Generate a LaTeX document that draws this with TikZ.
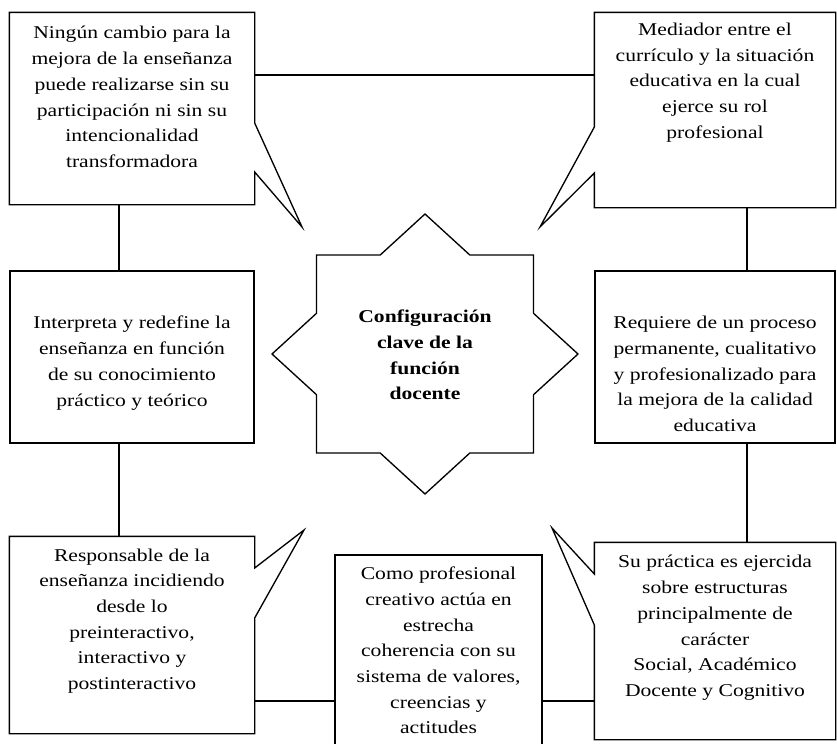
\documentclass[tikz,border=0pt]{standalone}
\usepackage{fontspec}
\setmainfont{Liberation Serif}[FakeStretch=1.2]
\usetikzlibrary{calc}

\begin{document}
\begin{tikzpicture}[
  x=0.75pt, y=-0.75pt, line width=1pt,
  txt/.style={align=center, inner sep=0pt, font=\fontsize{13.5}{19.3}\selectfont},
  box/.style={rectangle, inner sep=0pt, minimum width=183pt},
  frame/.style={draw, line join=miter, fill=white},
  link/.style={draw},
]
\clip (0,0) rectangle (837,743);
\fill[white] (0,0) rectangle (837,743);

% cajas
\node[box, minimum height=143.25pt] (tl) at (132,108.5) {};
\node[box, minimum width=180pt, minimum height=145.5pt] (tr) at (715,110) {};
\node[box, draw, minimum height=129pt] (ml) at (132,357) {};
\node[box, draw, minimum width=180pt, minimum height=129pt] (mr) at (715,357) {};
\node[box, minimum height=147pt] (bl) at (132,635) {};
\node[box, draw, minimum width=155.25pt, minimum height=157.5pt] (bm) at (438.5,660) {};
\node[box, minimum width=180pt, minimum height=147pt] (br) at (715,641) {};

% puntas de los globos
\coordinate (tl-tip) at (302,227);
\coordinate (tr-tip) at (540,227);
\coordinate (bl-tip) at (304,530);
\coordinate (br-tip) at (552,528);

\draw[frame] (tl.north west) -- (tl.north east) -- (tl.east |- 0,123) -- (tl-tip)
  -- (tl.east |- 0,172) -- (tl.south east) -- (tl.south west) -- cycle;
\draw[frame] (tr.north west) -- (tr.north east) -- (tr.south east) -- (tr.south west)
  -- (tr.west |- 0,173) -- (tr-tip) -- (tr.west |- 0,127) -- cycle;
\draw[frame] (bl.north west) -- (bl.north east) -- (bl.east |- 0,568) -- (bl-tip)
  -- (bl.east |- 0,618) -- (bl.south east) -- (bl.south west) -- cycle;
\draw[frame] (br.north west) -- (br.west |- 0,574) -- (br-tip) -- (br.west |- 0,625)
  -- (br.south west) -- (br.south east) -- (br.north east) -- cycle;

% conexiones
\draw[link] (tl.east |- 0,75) -- (tr.west |- 0,75);
\draw[link] (tl.south -| 119,0) -- (ml.north -| 119,0);
\draw[link] (ml.south -| 119,0) -- (bl.north -| 119,0);
\draw[link] (tr.south -| 747,0) -- (mr.north -| 747,0);
\draw[link] (mr.south -| 747,0) -- (br.north -| 747,0);
\draw[link] (bl.east |- 0,701) -- (bm.west |- 0,701);
\draw[link] (bm.east |- 0,701) -- (br.west |- 0,701);

% estrella central
\draw[frame] (425,214) -- (469.8,255) -- (533.5,255) -- (533.5,313.3) -- (578,354)
  -- (533.5,394.7) -- (533.5,453) -- (469.8,453) -- (425,494) -- (380.2,453)
  -- (316.5,453) -- (316.5,394.7) -- (272,354) -- (316.5,313.3) -- (316.5,255)
  -- (380.2,255) -- cycle;

% textos
\node[txt] (tl-t) at (132,97) {Ningún cambio para la\\mejora de la enseñanza\\puede realizarse sin su\\participación ni sin su\\intencionalidad\\transformadora};
\node[txt] (tr-t) at (715,82.5) {Mediador entre el\\currículo y la situación\\educativa en la cual\\ejerce su rol\\profesional};
\node[txt] (ml-t) at (132,363) {Interpreta y redefine la\\enseñanza en función\\de su conocimiento\\práctico y teórico};
\node[txt] (mr-t) at (715,374) {Requiere de un proceso\\permanente, cualitativo\\y profesionalizado para\\la mejora de la calidad\\educativa};
\node[txt] (bl-t) at (132,621) {Responsable de la\\enseñanza incidiendo\\desde lo\\preinteractivo,\\interactivo y\\postinteractivo};
\node[txt] (bm-t) at (438.5,650.5) {Como profesional\\creativo actúa en\\estrecha\\coherencia con su\\sistema de valores,\\creencias y\\actitudes};
\node[txt] (br-t) at (715,628) {Su práctica es ejercida\\sobre estructuras\\principalmente de\\carácter\\Social, Académico\\Docente y Cognitivo};
\node[txt, font=\fontsize{13.5}{19.3}\selectfont\bfseries] (core) at (425,355) {Configuración\\clave de la\\función\\docente};
\end{tikzpicture}
\end{document}
